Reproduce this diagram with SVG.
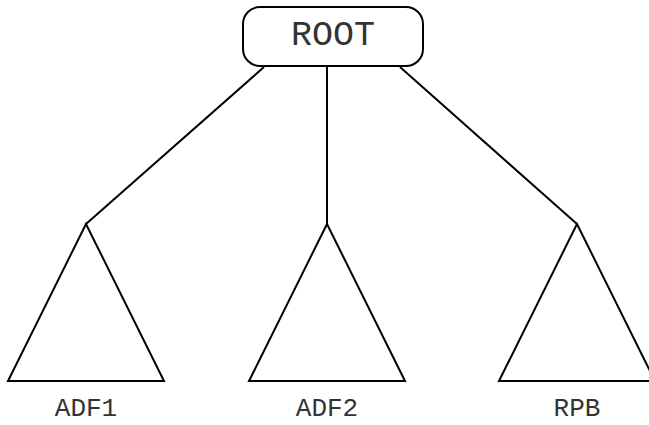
<svg xmlns="http://www.w3.org/2000/svg" width="649" height="425" viewBox="0 0 649 425">
<style>
.s{fill:none;stroke:#000;stroke-width:2;stroke-linejoin:miter}
.t{font-family:"Liberation Mono","Courier New",monospace;fill:#333;text-anchor:middle}
.b{font-size:26px}
</style>
<rect width="649" height="425" fill="#fff"/>
<g id="connectors">
<line class="s" x1="264" y1="67" x2="86" y2="224"/>
<line class="s" x1="327" y1="67" x2="327" y2="224"/>
<line class="s" x1="400" y1="67" x2="577" y2="224"/>
</g>
<g id="root">
<rect class="s" x="243" y="7" width="180" height="59" rx="17"/>
<text class="t" x="333" y="45" font-size="35">ROOT</text>
</g>
<g id="adf1">
<polygon class="s" points="86,224 8,381 164,381"/>
<text class="t b" x="86" y="416">ADF1</text>
</g>
<g id="adf2">
<polygon class="s" points="327,224 249,381 405,381"/>
<text class="t b" x="327" y="416">ADF2</text>
</g>
<g id="rpb">
<polygon class="s" points="577,224 499,381 655,381"/>
<text class="t b" x="577" y="416">RPB</text>
</g>
</svg>
